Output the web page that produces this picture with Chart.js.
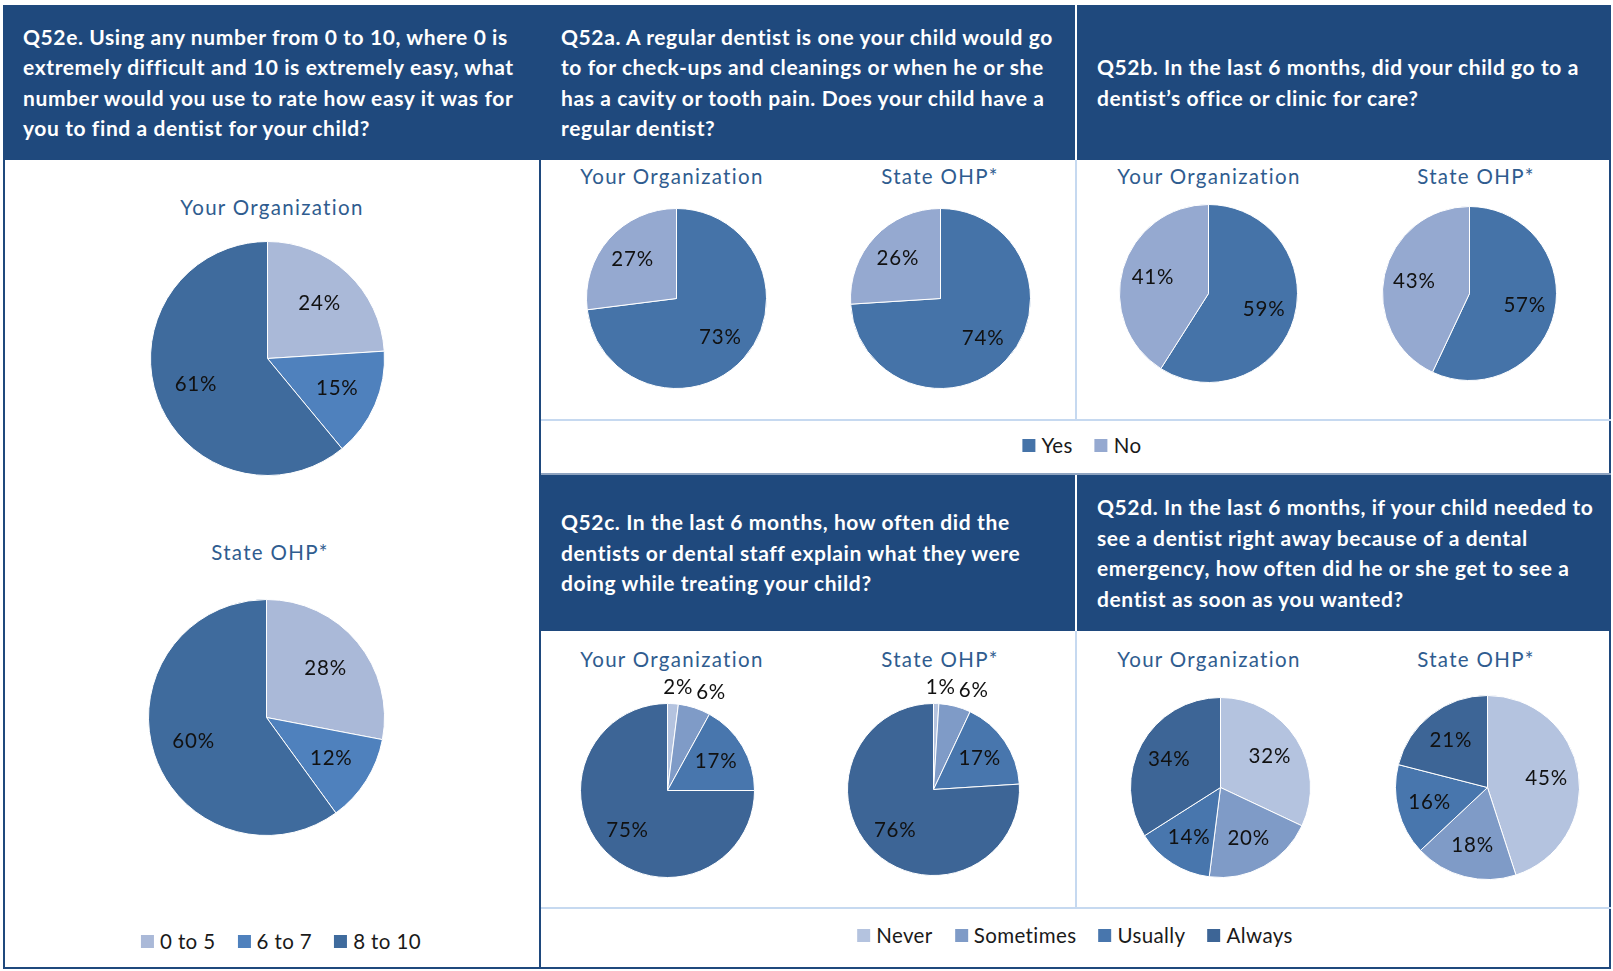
<!DOCTYPE html>
<html>
<head>
<meta charset="utf-8">
<script src="https://cdn.jsdelivr.net/npm/chart.js@4.4.1/dist/chart.umd.min.js"></script>
<style>
  body { margin: 0; background: #fff; width: 1613px; height: 971px; position: relative; overflow: hidden; font-family: Lato, 'Open Sans', sans-serif; }
  .abs { position: absolute; box-sizing: border-box; }
  .hdr { background: #1f497d; color: #fff; font-weight: bold; font-size: 21px; letter-spacing: 0.6px; line-height: 30.5px;
         padding-left: 20px; display: flex; align-items: center; white-space: nowrap; }
  .ttl { color: #2f5c8f; font-size: 20.5px; letter-spacing: 1.3px; white-space: nowrap; transform: translate(-50%, -50%); }
  .lgd { display: flex; align-items: center; font-size: 20.5px; letter-spacing: 0.4px; color: #1a1a1a; white-space: nowrap; transform: translate(-50%, -50%); }
  .lgd span.sw { display: inline-block; width: 13px; height: 13px; margin-right: 6px; }
  .lgd span.it { margin-right: 22px; display: flex; align-items: center; }
  .lgd span.it:last-child { margin-right: 0; }
</style>
</head>
<body>
<script>
// survey results, percent of respondents
const rangeLabels = ['0 to 5', '6 to 7', '8 to 10'];
const easeOrg     = [24, 15, 61];
const easeState   = [28, 12, 60];

const yesNoLabels  = ['Yes', 'No'];
const regularOrg   = [73, 27];
const regularState = [74, 26];
const visitOrg     = [59, 41];
const visitState   = [57, 43];

const freqLabels   = ['Never', 'Sometimes', 'Usually', 'Always'];
const explainOrg   = [2, 6, 17, 75];
const explainState = [1, 6, 17, 76];
const urgentOrg    = [32, 20, 14, 34];
const urgentState  = [45, 18, 16, 21];

const groupTitles = ['Your Organization', 'State OHP*'];

const rangeColors = ['#aab9d8', '#4f81bd', '#3f6b9d'];
const yesNoColors = ['#4573a8', '#95a9d0'];
const freqColors  = ['#b4c3df', '#7f9bc7', '#4876ad', '#3d6596'];

const NAVY  = '#1f497d';
const PALE  = '#c6d9f0';
const PAD   = 40;

function box(x, y, w, h, css) {
  const d = document.createElement('div');
  d.className = 'abs';
  Object.assign(d.style, { left: x + 'px', top: y + 'px', width: w + 'px', height: h + 'px' }, css || {});
  document.body.appendChild(d);
  return d;
}

function header(x, y, w, h, lines) {
  const d = box(x, y, w, h);
  d.classList.add('hdr');
  d.innerHTML = '<div>' + lines.join('<br>') + '</div>';
}

function title(cx, cy, text) {
  const d = box(cx, cy, null, null);
  d.style.width = d.style.height = '';
  d.classList.add('ttl');
  d.textContent = text;
}

function legend(cx, cy, labels, colors) {
  const d = box(cx, cy, null, null);
  d.style.width = d.style.height = '';
  d.classList.add('lgd');
  d.innerHTML = labels.map((l, i) =>
    `<span class="it"><span class="sw" style="background:${colors[i]}"></span>${l}</span>`).join('');
}

// percent labels: inside the slice, or just outside for thin slices
const pctLabels = {
  id: 'pctLabels',
  afterDatasetsDraw(chart) {
    const { ctx } = chart;
    const values = chart.data.datasets[0].data;
    const arcs = chart.getDatasetMeta(0).data;
    ctx.save();
    ctx.font = '20.5px Lato';
    ctx.letterSpacing = '0.8px';
    ctx.fillStyle = '#111';
    ctx.textAlign = 'center';
    ctx.textBaseline = 'middle';
    const spots = arcs.map((arc, i) => {
      const { x, y, startAngle, endAngle, outerRadius } =
        arc.getProps(['x', 'y', 'startAngle', 'endAngle', 'outerRadius'], true);
      const mid = (startAngle + endAngle) / 2;
      const text = values[i] + '%';
      const w = ctx.measureText(text).width;
      const dx = Math.cos(mid), dy = Math.sin(mid);
      if (values[i] >= 8) {
        const d = outerRadius * 0.65;
        return { text, w, outside: false, x: x + dx * d, y: y + dy * d };
      }
      const d = outerRadius + 5;
      return { text, w, outside: true, x: x + dx * d + dx * w / 2 + 4, y: y + dy * d + dy * 11 };
    });
    // push crowded outside labels clockwise
    for (let i = 1; i < spots.length; i++) {
      const a = spots[i - 1], b = spots[i];
      if (!a.outside || !b.outside) continue;
      const need = (a.w + b.w) / 2 + 3;
      const gap = b.x - a.x;
      if (gap < need) b.x += need - gap;
    }
    spots.forEach(s => ctx.fillText(s.text, s.x, s.y));
    ctx.restore();
  }
};

function pie(cx, cy, r, labels, values, colors) {
  const size = 2 * (r + PAD) + 1;
  const c = document.createElement('canvas');
  c.width = size; c.height = size;
  c.className = 'abs';
  c.style.left = (cx - size / 2) + 'px';
  c.style.top = (cy - size / 2) + 'px';
  document.body.appendChild(c);
  new Chart(c, {
    type: 'pie',
    data: { labels, datasets: [{ data: values, backgroundColor: colors, borderColor: '#ffffff', borderWidth: 1 }] },
    options: {
      responsive: false,
      animation: false,
      layout: { padding: PAD },
      plugins: { legend: { display: false }, tooltip: { enabled: false } },
    },
    plugins: [pctLabels],
  });
}

// frame and panel grid
box(3, 5, 1608, 964, { border: '2px solid ' + NAVY });
box(539, 5, 2, 964, { background: NAVY });

header(3, 5, 536, 155, [
  'Q52e. Using any number from 0 to 10, where 0 is',
  'extremely difficult and 10 is extremely easy, what',
  'number would you use to rate how easy it was for',
  'you to find a dentist for your child?'
]);
header(541, 5, 534, 155, [
  'Q52a. A regular dentist is one your child would go',
  'to for check-ups and cleanings or when he or she',
  'has a cavity or tooth pain. Does your child have a',
  'regular dentist?'
]);
header(1077, 5, 534, 155, [
  'Q52b. In the last 6 months, did your child go to a',
  'dentist\u2019s office or clinic for care?'
]);
header(541, 475, 534, 156, [
  'Q52c. In the last 6 months, how often did the',
  'dentists or dental staff explain what they were',
  'doing while treating your child?'
]);
header(1077, 475, 534, 156, [
  'Q52d. In the last 6 months, if your child needed to',
  'see a dentist right away because of a dental',
  'emergency, how often did he or she get to see a',
  'dentist as soon as you wanted?'
]);
box(1075, 5, 2, 155, { background: '#fff' });
box(1075, 475, 2, 156, { background: '#fff' });
box(1075, 160, 2, 260, { background: PALE });
box(1075, 631, 2, 277, { background: PALE });
box(541, 419, 1070, 2, { background: PALE });
box(541, 473, 1070, 2, { background: '#8ea3c0' });
box(541, 907, 1070, 2, { background: PALE });

// Q52e
title(272, 207, groupTitles[0]);
pie(267, 358, 117, rangeLabels, easeOrg, rangeColors);
title(270, 552, groupTitles[1]);
pie(266, 717, 118, rangeLabels, easeState, rangeColors);
legend(281, 941, rangeLabels, rangeColors);

// Q52a / Q52b
title(672, 176, groupTitles[0]);
pie(676, 298, 90, yesNoLabels, regularOrg, yesNoColors);
title(940, 176, groupTitles[1]);
pie(940, 298, 90, yesNoLabels, regularState, yesNoColors);
title(1209, 176, groupTitles[0]);
pie(1208, 293, 89, yesNoLabels, visitOrg, yesNoColors);
title(1476, 176, groupTitles[1]);
pie(1469, 293, 87, yesNoLabels, visitState, yesNoColors);
legend(1082, 445, yesNoLabels, yesNoColors);

// Q52c / Q52d
title(672, 659, groupTitles[0]);
pie(667, 790, 87, freqLabels, explainOrg, freqColors);
title(940, 659, groupTitles[1]);
pie(933, 789, 86, freqLabels, explainState, freqColors);
title(1209, 659, groupTitles[0]);
pie(1220, 787, 90, freqLabels, urgentOrg, freqColors);
title(1476, 659, groupTitles[1]);
pie(1487, 787, 92, freqLabels, urgentState, freqColors);
legend(1075, 935, freqLabels, freqColors);
</script>
</body>
</html>
